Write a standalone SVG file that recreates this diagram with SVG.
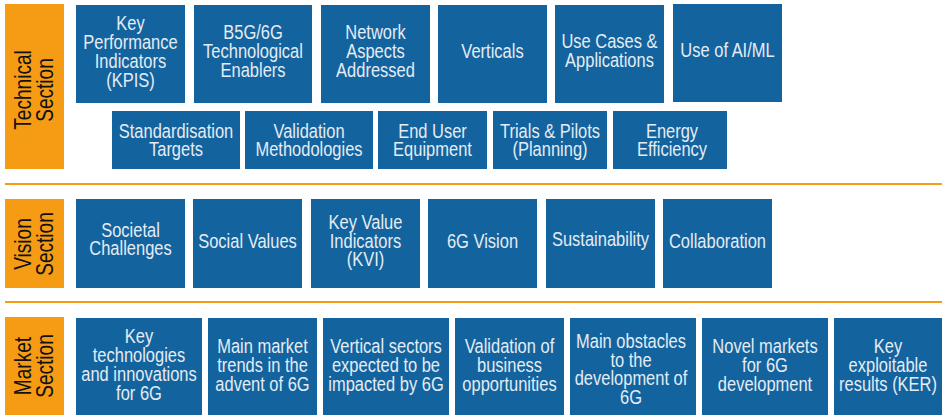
<svg xmlns="http://www.w3.org/2000/svg" width="942" height="415" viewBox="0 0 942 415">
<style>
.box{fill:#13639E}
.sec{fill:#F59B14}
.t{font-family:"Liberation Sans",Arial,sans-serif;font-size:19.5px;fill:#E4ECF4;text-anchor:middle}
.s{font-family:"Liberation Sans",Arial,sans-serif;font-size:23px;fill:#111;text-anchor:middle}
.line{stroke:#F59B14;stroke-width:2.2}
</style>
<g id="connectors">
<line class="line" x1="5" y1="184" x2="942" y2="184"/>
<line class="line" x1="5" y1="302" x2="942" y2="302"/>
</g>
<g id="technical-section"><rect class="sec" x="5" y="4" width="59" height="165"/>
<text class="s" transform="translate(0,90) rotate(-90) scale(0.83,1)"><tspan x="0" y="31.5">Technical</tspan><tspan x="0" y="53.5">Section</tspan></text></g>
<g id="vision-section"><rect class="sec" x="5" y="199" width="59" height="89"/>
<text class="s" transform="translate(0,244) rotate(-90) scale(0.83,1)"><tspan x="0" y="31.5">Vision</tspan><tspan x="0" y="53.5">Section</tspan></text></g>
<g id="market-section"><rect class="sec" x="5" y="317" width="59" height="98"/>
<text class="s" transform="translate(0,366) rotate(-90) scale(0.83,1)"><tspan x="0" y="31.5">Market</tspan><tspan x="0" y="53.5">Section</tspan></text></g>

<g id="kpis"><rect class="box" x="76" y="5" width="109" height="98"/>
<text class="t" transform="translate(130.5,0) scale(0.845,1)"><tspan x="0" y="30.5">Key</tspan><tspan x="0" y="49.2">Performance</tspan><tspan x="0" y="67.9">Indicators</tspan><tspan x="0" y="86.6">(KPIS)</tspan></text></g>
<g id="b5g"><rect class="box" x="194" y="5" width="118" height="98"/>
<text class="t" transform="translate(253,0) scale(0.845,1)"><tspan x="0" y="39.3">B5G/6G</tspan><tspan x="0" y="58">Technological</tspan><tspan x="0" y="76.7">Enablers</tspan></text></g>
<g id="network"><rect class="box" x="321" y="5" width="109" height="98"/>
<text class="t" transform="translate(375.5,0) scale(0.845,1)"><tspan x="0" y="39.3">Network</tspan><tspan x="0" y="58">Aspects</tspan><tspan x="0" y="76.7">Addressed</tspan></text></g>
<g id="verticals"><rect class="box" x="438" y="5" width="109" height="98"/>
<text class="t" transform="translate(492.5,0) scale(0.845,1)"><tspan x="0" y="58.3">Verticals</tspan></text></g>
<g id="usecases"><rect class="box" x="555" y="5" width="109" height="98"/>
<text class="t" transform="translate(609.5,0) scale(0.845,1)"><tspan x="0" y="48.5">Use Cases &amp;</tspan><tspan x="0" y="67.3">Applications</tspan></text></g>
<g id="aiml"><rect class="box" x="673" y="4" width="109" height="98"/>
<text class="t" transform="translate(727.5,0) scale(0.845,1)"><tspan x="0" y="57.3">Use of AI/ML</tspan></text></g>

<g id="standardisation"><rect class="box" x="112" y="111" width="128" height="58"/>
<text class="t" transform="translate(176,0) scale(0.845,1)"><tspan x="0" y="137.7">Standardisation</tspan><tspan x="0" y="156.3">Targets</tspan></text></g>
<g id="validation"><rect class="box" x="245" y="111" width="128" height="58"/>
<text class="t" transform="translate(309,0) scale(0.845,1)"><tspan x="0" y="137.7">Validation</tspan><tspan x="0" y="156.3">Methodologies</tspan></text></g>
<g id="enduser"><rect class="box" x="378" y="111" width="109" height="58"/>
<text class="t" transform="translate(432.5,0) scale(0.845,1)"><tspan x="0" y="137.7">End User</tspan><tspan x="0" y="156.3">Equipment</tspan></text></g>
<g id="trials"><rect class="box" x="493" y="111" width="114" height="58"/>
<text class="t" transform="translate(550,0) scale(0.845,1)"><tspan x="0" y="137.7">Trials &amp; Pilots</tspan><tspan x="0" y="156.3">(Planning)</tspan></text></g>
<g id="energy"><rect class="box" x="613" y="111" width="114" height="58"/>
<text class="t" transform="translate(672,0) scale(0.845,1)"><tspan x="0" y="137.7">Energy</tspan><tspan x="0" y="156.3">Efficiency</tspan></text></g>

<g id="societal"><rect class="box" x="76" y="199" width="109" height="89"/>
<text class="t" transform="translate(130.5,0) scale(0.845,1)"><tspan x="0" y="236.7">Societal</tspan><tspan x="0" y="255.3">Challenges</tspan></text></g>
<g id="socialvalues"><rect class="box" x="193" y="199" width="109" height="89"/>
<text class="t" transform="translate(247.5,0) scale(0.845,1)"><tspan x="0" y="247.7">Social Values</tspan></text></g>
<g id="kvi"><rect class="box" x="311" y="199" width="109" height="89"/>
<text class="t" transform="translate(365.5,0) scale(0.845,1)"><tspan x="0" y="229">Key Value</tspan><tspan x="0" y="247.7">Indicators</tspan><tspan x="0" y="266.4">(KVI)</tspan></text></g>
<g id="vision6g"><rect class="box" x="428" y="199" width="109" height="89"/>
<text class="t" transform="translate(482.5,0) scale(0.845,1)"><tspan x="0" y="247.7">6G Vision</tspan></text></g>
<g id="sustainability"><rect class="box" x="546" y="199" width="109" height="89"/>
<text class="t" transform="translate(600.5,0) scale(0.845,1)"><tspan x="0" y="245.7">Sustainability</tspan></text></g>
<g id="collaboration"><rect class="box" x="663" y="199" width="109" height="89"/>
<text class="t" transform="translate(717.5,0) scale(0.845,1)"><tspan x="0" y="247.7">Collaboration</tspan></text></g>

<g id="keytech"><rect class="box" x="76" y="318" width="126" height="97"/>
<text class="t" transform="translate(139,0) scale(0.845,1)"><tspan x="0" y="343.3">Key</tspan><tspan x="0" y="362.3">technologies</tspan><tspan x="0" y="381.3">and innovations</tspan><tspan x="0" y="400.3">for 6G</tspan></text></g>
<g id="mainmarket"><rect class="box" x="208" y="318" width="109" height="97"/>
<text class="t" transform="translate(262.5,0) scale(0.845,1)"><tspan x="0" y="353.3">Main market</tspan><tspan x="0" y="372.3">trends in the</tspan><tspan x="0" y="391.3">advent of 6G</tspan></text></g>
<g id="verticalsectors"><rect class="box" x="323" y="318" width="126" height="97"/>
<text class="t" transform="translate(386,0) scale(0.845,1)"><tspan x="0" y="353.3">Vertical sectors</tspan><tspan x="0" y="372.3">expected to be</tspan><tspan x="0" y="391.3">impacted by 6G</tspan></text></g>
<g id="validbiz"><rect class="box" x="455" y="318" width="109" height="97"/>
<text class="t" transform="translate(509.5,0) scale(0.845,1)"><tspan x="0" y="353.3">Validation of</tspan><tspan x="0" y="372.3">business</tspan><tspan x="0" y="391.3">opportunities</tspan></text></g>
<g id="obstacles"><rect class="box" x="570" y="318" width="126" height="97"/>
<text class="t" transform="translate(631,0) scale(0.845,1)"><tspan x="0" y="347.7">Main obstacles</tspan><tspan x="0" y="366.6">to the</tspan><tspan x="0" y="385.5">development of</tspan><tspan x="0" y="404.4">6G</tspan></text></g>
<g id="novel"><rect class="box" x="702" y="318" width="126" height="97"/>
<text class="t" transform="translate(765,0) scale(0.845,1)"><tspan x="0" y="353.3">Novel markets</tspan><tspan x="0" y="372.3">for 6G</tspan><tspan x="0" y="391.3">development</tspan></text></g>
<g id="ker"><rect class="box" x="834" y="318" width="108" height="97"/>
<text class="t" transform="translate(888,0) scale(0.845,1)"><tspan x="0" y="353.3">Key</tspan><tspan x="0" y="372.3">exploitable</tspan><tspan x="0" y="391.3">results (KER)</tspan></text></g>
</svg>
